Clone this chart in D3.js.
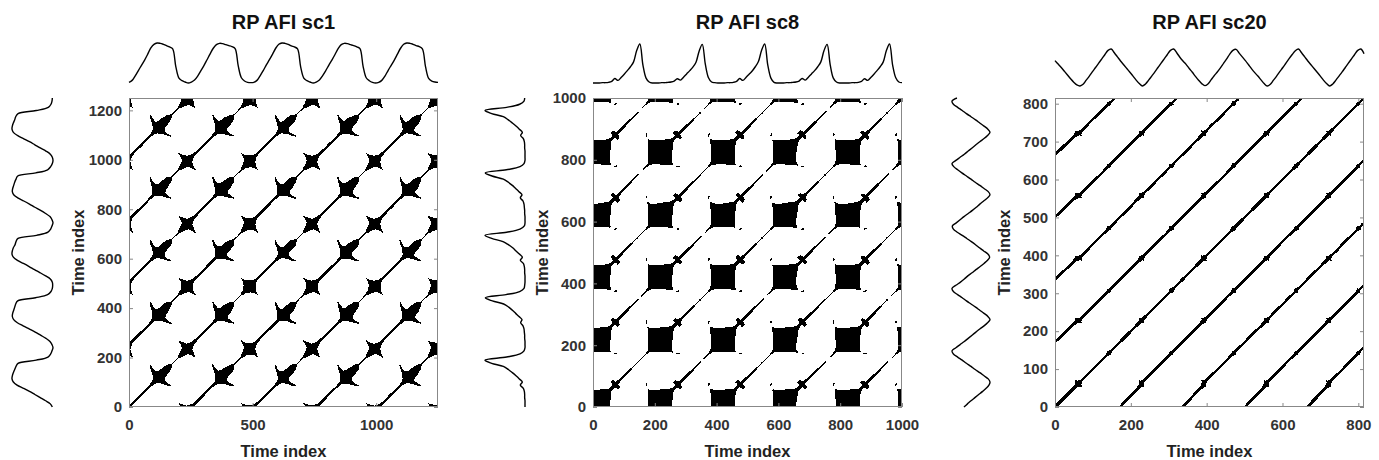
<!DOCTYPE html>
<html>
<head>
<meta charset="utf-8">
<script src="https://cdn.jsdelivr.net/npm/d3@7"></script>
<style>
  body { margin: 0; background: #fff; }
  svg { display: block; font-family: "Liberation Sans", Arial, Helvetica, sans-serif; }
</style>
</head>
<body>
<svg id="chart" width="1379" height="460"></svg>
<script>
// --- data ---
const titles = ["RP AFI sc1", "RP AFI sc8", "RP AFI sc20"];
const timeSpans = [1250, 1000, 815];

const xTicks1 = [0, 500, 1000];
const yTicks1 = [0, 200, 400, 600, 800, 1000, 1200];
const xTicks8 = [0, 200, 400, 600, 800, 1000];
const yTicks8 = [0, 200, 400, 600, 800, 1000];
const xTicks20 = [0, 200, 400, 600, 800];
const yTicks20 = [0, 100, 200, 300, 400, 500, 600, 700, 800];

// signal samples, evenly spaced over each time span
const sc1Signal = [
  0.02, 0.08, 0.22, 0.38, 0.54, 0.70, 0.88, 1.07, 1.18, 1.22, 1.21, 1.18, 1.14, 1.10, 1.04, 0.50, 0.15, 0.07, 0.03, 0.00,
  0.03, 0.09, 0.21, 0.37, 0.53, 0.71, 0.89, 1.06, 1.17, 1.21, 1.20, 1.17, 1.14, 1.11, 1.05, 0.52, 0.16, 0.06, 0.02, 0.01,
  0.02, 0.08, 0.22, 0.38, 0.55, 0.71, 0.88, 1.06, 1.18, 1.22, 1.21, 1.18, 1.13, 1.10, 1.04, 0.49, 0.15, 0.07, 0.03, 0.00,
  0.03, 0.09, 0.22, 0.37, 0.54, 0.70, 0.87, 1.05, 1.17, 1.21, 1.20, 1.17, 1.14, 1.10, 1.05, 0.51, 0.16, 0.07, 0.02, 0.00,
  0.02, 0.08, 0.21, 0.38, 0.54, 0.70, 0.88, 1.06, 1.18, 1.22, 1.21, 1.18, 1.14, 1.11, 1.04, 0.50, 0.14, 0.06, 0.03, 0.02
];
const sc8Signal = [
  0.00, 0.00, 0.00, 0.01, 0.01, 0.02, 0.05, 0.14, 0.08, 0.17, 0.27, 0.38, 0.50, 0.65, 1.00, 1.20, 0.55, 0.15, 0.03, 0.00,
  0.00, 0.00, 0.01, 0.01, 0.02, 0.03, 0.06, 0.13, 0.09, 0.18, 0.28, 0.38, 0.49, 0.64, 0.98, 1.19, 0.57, 0.16, 0.03, 0.01,
  0.00, 0.00, 0.00, 0.01, 0.01, 0.02, 0.05, 0.14, 0.08, 0.17, 0.27, 0.37, 0.50, 0.66, 1.00, 1.20, 0.55, 0.15, 0.02, 0.00,
  0.00, 0.00, 0.01, 0.01, 0.02, 0.03, 0.06, 0.14, 0.09, 0.18, 0.28, 0.38, 0.50, 0.65, 0.99, 1.19, 0.56, 0.15, 0.03, 0.00,
  0.00, 0.00, 0.00, 0.01, 0.01, 0.02, 0.05, 0.13, 0.08, 0.17, 0.27, 0.38, 0.50, 0.65, 1.00, 1.20, 0.55, 0.16, 0.03, 0.01
];
const sc20Signal = [
  0.77, 0.67, 0.57, 0.46, 0.35, 0.24, 0.14, 0.06, 0.03, 0.08, 0.20, 0.32, 0.45, 0.57, 0.70, 0.82, 0.95, 1.07, 1.11, 1.00,
  0.88, 0.76, 0.65, 0.54, 0.43, 0.32, 0.20, 0.10, 0.03, 0.09, 0.20, 0.32, 0.44, 0.57, 0.70, 0.82, 0.95, 1.07, 1.11, 1.00,
  0.87, 0.76, 0.66, 0.54, 0.43, 0.31, 0.20, 0.10, 0.04, 0.09, 0.21, 0.33, 0.44, 0.56, 0.69, 0.82, 0.96, 1.07, 1.10, 0.99,
  0.88, 0.77, 0.65, 0.53, 0.42, 0.32, 0.21, 0.10, 0.03, 0.08, 0.20, 0.32, 0.45, 0.57, 0.70, 0.83, 0.95, 1.06, 1.11, 1.00,
  0.88, 0.76, 0.65, 0.54, 0.43, 0.32, 0.20, 0.10, 0.03, 0.09, 0.20, 0.32, 0.44, 0.57, 0.70, 0.82, 0.95, 1.07, 1.11, 0.97
];

// recurrence settings: embedding delay (time units) and threshold
const embedDelays = [3, 3, 3];
const thresholds = [0.07, 0.05, 0.06];

// --- layout ---
const plotSize = 309;
const plotTop = 98;
const plotLefts = [129, 593, 1055];
const topStrip = [[83, 43], [83, 44], [86, 49]];          // y for low / high value
const leftStrip = [[-76, -117], [-68, -108], [-65, -103]]; // x offset for low / high value

const panels = [
  { title: titles[0], span: timeSpans[0], signal: sc1Signal, xTicks: xTicks1, yTicks: yTicks1 },
  { title: titles[1], span: timeSpans[1], signal: sc8Signal, xTicks: xTicks8, yTicks: yTicks8 },
  { title: titles[2], span: timeSpans[2], signal: sc20Signal, xTicks: xTicks20, yTicks: yTicks20 }
];

const svg = d3.select("#chart");
svg.append("rect").attr("width", 1379).attr("height", 460).attr("fill", "#fff");

// recurrence matrix, supersampled then reduced to pixel cells (coverage test),
// returned as horizontal runs in time units
function recurrenceRuns(sig, span, n, tau, eps) {
  const S = 3, M = n * S;
  const sub = span / M;
  const vecs = d3.range(M).map(k => {
    const t = (k + 0.5) * sub;
    return [0, 1, 2].map(m => sig(Math.min(span, t + m * tau)));
  });
  const rec = new Uint8Array(M * M);
  for (let j = 0; j < M; j++) {
    const b = vecs[j];
    for (let i = 0; i < M; i++) {
      const a = vecs[i];
      const d = Math.max(Math.abs(a[0] - b[0]), Math.abs(a[1] - b[1]), Math.abs(a[2] - b[2]));
      rec[j * M + i] = d < eps ? 1 : 0;
    }
  }
  const step = span / n;
  const runs = [];
  for (let j = 0; j < n; j++) {
    let start = -1;
    for (let i = 0; i <= n; i++) {
      let on = false;
      if (i < n) {
        let c = 0;
        for (let dj = 0; dj < S; dj++)
          for (let di = 0; di < S; di++)
            c += rec[(j * S + dj) * M + i * S + di];
        on = c >= 3;
      }
      if (on && start < 0) start = i;
      if (!on && start >= 0) {
        runs.push({ t0: start * step, t1: i * step, u0: j * step, u1: (j + 1) * step });
        start = -1;
      }
    }
  }
  return runs;
}

panels.forEach((p, idx) => {
  const left = plotLefts[idx];
  const g = svg.append("g").attr("transform", `translate(${left},${plotTop})`);

  const x = d3.scaleLinear().domain([0, p.span]).range([0, plotSize]);
  const y = d3.scaleLinear().domain([0, p.span]).range([plotSize, 0]);

  const times = d3.range(p.signal.length).map(k => k * p.span / (p.signal.length - 1));
  const sig = d3.scaleLinear().domain(times).range(p.signal).clamp(true);
  const vExt = d3.extent(p.signal);

  // recurrence plot
  const runs = recurrenceRuns(sig, p.span, plotSize, embedDelays[idx], thresholds[idx]);
  g.append("g")
    .attr("shape-rendering", "crispEdges")
    .selectAll("rect")
    .data(runs)
    .join("rect")
    .attr("x", d => x(d.t0))
    .attr("width", d => x(d.t1) - x(d.t0))
    .attr("y", d => y(d.u1))
    .attr("height", d => y(d.u0) - y(d.u1))
    .attr("fill", "#000");

  // box + inward ticks on all four sides
  const tickLen = 4;
  const fmt = d3.format("d");
  const axes = [
    { ax: d3.axisBottom(x).tickValues(p.xTicks).tickSize(-tickLen).tickPadding(12).tickFormat(fmt), tr: `translate(0,${plotSize})` },
    { ax: d3.axisTop(x).tickValues(p.xTicks).tickSize(-tickLen).tickFormat(""), tr: null },
    { ax: d3.axisLeft(y).tickValues(p.yTicks).tickSize(-tickLen).tickPadding(7).tickFormat(fmt), tr: null },
    { ax: d3.axisRight(y).tickValues(p.yTicks).tickSize(-tickLen).tickFormat(""), tr: `translate(${plotSize},0)` }
  ];
  axes.forEach(a => {
    const ag = g.append("g").call(a.ax);
    if (a.tr) ag.attr("transform", a.tr);
    ag.select(".domain").remove();
    ag.selectAll(".tick line").attr("stroke", "#888");
    ag.selectAll("text")
      .attr("fill", "#333")
      .style("font-size", "15px")
      .style("font-weight", "bold");
  });
  g.append("rect")
    .attr("x", 0.5).attr("y", 0.5)
    .attr("width", plotSize - 1).attr("height", plotSize - 1)
    .attr("fill", "none").attr("stroke", "#888");

  // axis labels + title
  g.append("text")
    .attr("x", plotSize / 2).attr("y", plotSize + 50)
    .attr("text-anchor", "middle")
    .style("font-size", "16.5px").style("font-weight", "bold").attr("fill", "#222")
    .text("Time index");
  g.append("text")
    .attr("transform", `translate(-45,${plotSize / 2}) rotate(-90)`)
    .attr("text-anchor", "middle")
    .style("font-size", "16.5px").style("font-weight", "bold").attr("fill", "#222")
    .text("Time index");
  g.append("text")
    .attr("x", plotSize / 2).attr("y", 29 - plotTop)
    .attr("text-anchor", "middle")
    .style("font-size", "20px").style("font-weight", "bold").attr("fill", "#111")
    .text(p.title);

  // signal above (time along x)
  const topY = d3.scaleLinear().domain(vExt).range(topStrip[idx]);
  svg.append("path")
    .datum(p.signal)
    .attr("fill", "none").attr("stroke", "#000").attr("stroke-width", 1.4)
    .attr("d", d3.line()
      .curve(d3.curveCatmullRom.alpha(0.5))
      .x((v, k) => left + x(times[k]))
      .y(v => topY(v)));

  // signal on the left (time along y, rotated)
  const leftX = d3.scaleLinear().domain(vExt).range(leftStrip[idx]);
  g.append("path")
    .datum(p.signal)
    .attr("fill", "none").attr("stroke", "#000").attr("stroke-width", 1.4)
    .attr("d", d3.line()
      .curve(d3.curveCatmullRom.alpha(0.5))
      .x(v => leftX(v))
      .y((v, k) => y(times[k])));
});
</script>
</body>
</html>
